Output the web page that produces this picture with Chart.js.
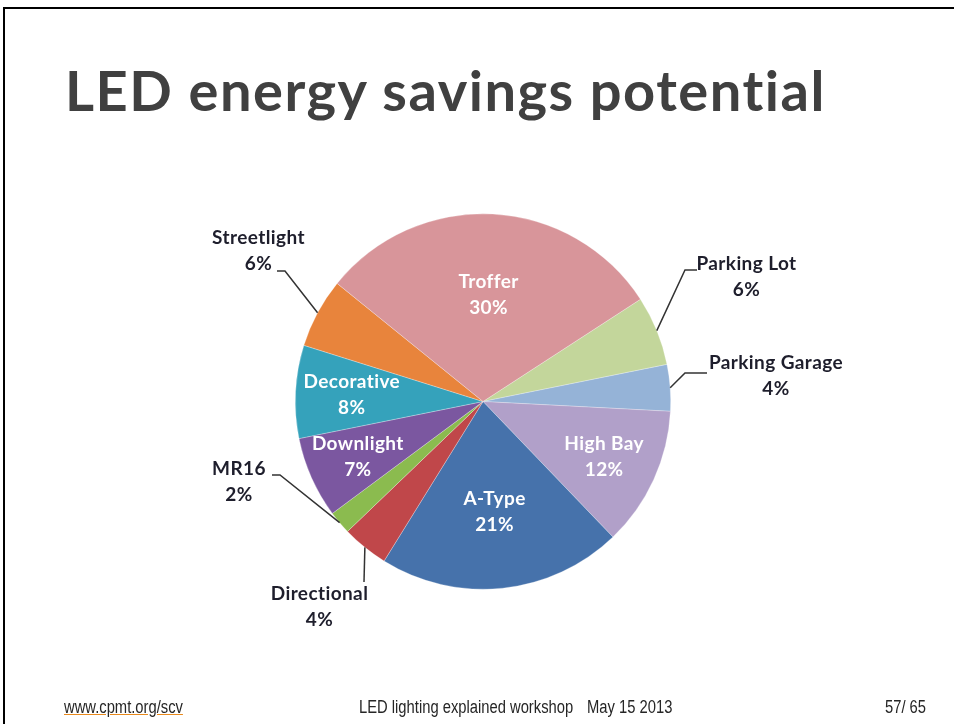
<!DOCTYPE html>
<html>
<head>
<meta charset="utf-8">
<title>LED energy savings potential</title>
<script src="https://cdn.jsdelivr.net/npm/chart.js@4.4.1/dist/chart.umd.min.js"></script>
<style>
  html, body { margin: 0; padding: 0; background: #fff; }
  body { width: 954px; height: 724px; position: relative; overflow: hidden; }
  #frame {
    position: absolute; left: 3px; top: 7px; right: -10px; bottom: -10px;
    border-top: 2px solid #000; border-left: 2px solid #000;
  }
  #title {
    position: absolute; left: 65px; top: 62px; margin: 0;
    font: bold 56px Lato, "Open Sans", sans-serif; line-height: 1;
    letter-spacing: 1.5px; font-variant-ligatures: none;
    color: #404040; white-space: nowrap;
  }
  #chart { position: absolute; left: 0; top: 0; }
  .foot {
    position: absolute; top: 697px; line-height: 1; white-space: nowrap;
    font: 18px "Liberation Sans", Arial, sans-serif; color: #262626;
    transform: scaleX(0.82); transform-origin: 0 0;
  }
  #url { left: 64px; text-decoration: underline; text-decoration-color: #e8891c; }
  #event { left: 359px; }
  #date { left: 587px; }
  #page { left: 885px; }
</style>
</head>
<body>
<div id="frame"></div>
<h1 id="title">LED energy savings potential</h1>
<canvas id="chart" width="954" height="724"></canvas>
<div class="foot" id="url">www.cpmt.org/scv</div>
<div class="foot" id="event">LED lighting explained workshop</div>
<div class="foot" id="date">May 15 2013</div>
<div class="foot" id="page">57/ 65</div>

<script>
// Share of LED energy savings potential by lamp/fixture type (percent)
const categories = ['Parking Lot', 'Parking Garage', 'High Bay', 'A-Type', 'Directional',
                    'MR16', 'Downlight', 'Decorative', 'Streetlight', 'Troffer'];
const savingsShare = [6, 4, 12, 21, 4, 2, 7, 8, 6, 30];
const sliceColors = ['#c3d69b', '#95b3d7', '#b1a0c9', '#4672ab', '#c0474a',
                     '#8bbb4f', '#7b57a0', '#35a2bb', '#e8843c', '#d8959a'];

// Labels written inside their slice (white) vs. called out with a leader line
const insideLabels = ['High Bay', 'A-Type', 'Downlight', 'Decorative', 'Troffer'];

// Label placement: inside labels by fraction of radius along the slice mid-angle;
// callouts by text centre and leader elbow/end, in px relative to the pie centre.
const insideRadius = { 'High Bay': 0.71, 'A-Type': 0.59, 'Downlight': 0.73, 'Decorative': 0.70, 'Troffer': 0.57 };
const callouts = {
  'Streetlight':    { text: [-224.5, -150.5], elbow: [-198, -130.5], end: [-206, -130.5] },
  'Parking Lot':    { text: [263.5, -124.5],  elbow: [202, -131.5],  end: [214, -131.5] },
  'Parking Garage': { text: [293, -25.5],     elbow: [202, -28.5],   end: [224, -28.5] },
  'MR16':           { text: [-244, 80.5],     elbow: [-203, 73.5],   end: [-211, 73.5] },
  'Directional':    { text: [-163.5, 205.5],  elbow: [-119, 180.5],  end: [-119, 180.5] }
};

const labelFont = 'bold 19px Lato, "Open Sans", sans-serif';
const lineGap = 26;

const pieLabels = {
  id: 'pieLabels',
  afterDatasetsDraw(chart) {
    const ctx = chart.ctx;
    const meta = chart.getDatasetMeta(0);
    ctx.save();
    ctx.font = labelFont;
    if ('letterSpacing' in ctx) ctx.letterSpacing = '0.4px';
    ctx.textAlign = 'center';
    ctx.textBaseline = 'middle';
    meta.data.forEach((arc, i) => {
      const name = chart.data.labels[i];
      const pct = chart.data.datasets[0].data[i] + '%';
      const { x, y, startAngle, endAngle, outerRadius } = arc.getProps(
        ['x', 'y', 'startAngle', 'endAngle', 'outerRadius'], true);
      const mid = (startAngle + endAngle) / 2;
      if (insideLabels.includes(name)) {
        const r = outerRadius * insideRadius[name];
        const cx = x + Math.cos(mid) * r;
        const cy = y + Math.sin(mid) * r;
        ctx.fillStyle = '#ffffff';
        ctx.fillText(name, cx, cy - lineGap / 2);
        ctx.fillText(pct, cx, cy + lineGap / 2);
      } else {
        const c = callouts[name];
        const rimX = x + Math.cos(mid) * outerRadius;
        const rimY = y + Math.sin(mid) * outerRadius;
        ctx.strokeStyle = '#333333';
        ctx.lineWidth = 1.5;
        ctx.beginPath();
        ctx.moveTo(rimX, rimY);
        ctx.lineTo(x + c.elbow[0], y + c.elbow[1]);
        ctx.lineTo(x + c.end[0], y + c.end[1]);
        ctx.stroke();
        const tx = x + c.text[0];
        const ty = y + c.text[1];
        ctx.fillStyle = '#1e1e2c';
        ctx.fillText(name, tx, ty - lineGap / 2);
        ctx.fillText(pct, tx, ty + lineGap / 2);
      }
    });
    ctx.restore();
  }
};

new Chart(document.getElementById('chart'), {
  type: 'pie',
  data: {
    labels: categories,
    datasets: [{
      data: savingsShare,
      backgroundColor: sliceColors,
      borderColor: 'rgba(255,255,255,0.45)',
      borderWidth: 0.6
    }]
  },
  options: {
    responsive: false,
    animation: false,
    rotation: 57,
    layout: { padding: { left: 295, right: 283, top: 213.5, bottom: 134.5 } },
    plugins: { legend: { display: false }, tooltip: { enabled: false } }
  },
  plugins: [pieLabels]
});
</script>
</body>
</html>
